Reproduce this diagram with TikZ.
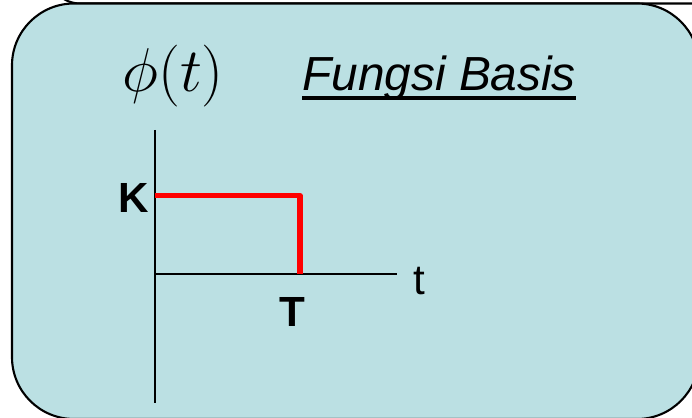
\RequirePackage{fix-cm}
\documentclass[tikz,border=0pt]{standalone}
\usepackage{fontspec}
\setmainfont{Liberation Sans}
\definecolor{panelblue}{RGB}{187,224,227}
\definecolor{stepred}{RGB}{255,0,0}

\begin{document}
\begin{tikzpicture}[x=0.025cm, y=-0.025cm, line join=round,
    lbl/.style={inner sep=0pt, anchor=base, font=\fontsize{30}{34}\selectfont\bfseries}]
  \useasboundingbox (0,0) rectangle (692,418);

  % bingkai
  \begin{scope}
    \clip (0,0) rectangle (692,418);
    \draw[line width=1.5pt, fill=white, rounded corners=22pt] (49,-200) rectangle (760,3.5);
    \draw[line width=1.5pt, fill=panelblue, rounded corners=44pt] (12,3.5) rectangle (699,419);
  \end{scope}

  % judul
  \node[inner sep=0pt, anchor=base west, font=\fontsize{44}{50}\selectfont] (phi) at (122,92) {$\phi(t)$};
  \node[inner sep=0pt, anchor=base west, font=\fontsize{34}{38}\selectfont\itshape] (judul) at (302,91) {Fungsi Basis};
  \draw[line width=2.8pt] ([yshift=-5pt]judul.base west) -- ([yshift=-5pt]judul.base east);

  % sumbu
  \coordinate (O) at (155,274);
  \coordinate (Yatas) at (155,130);
  \coordinate (Ybawah) at (155,403);
  \coordinate (Xujung) at (397,274);
  \draw[line width=1.4pt] (Yatas) -- (Ybawah);
  \draw[line width=1.4pt] (O) -- (Xujung);

  % fungsi tangga
  \coordinate (Kpt) at (155,195.5);
  \coordinate (Tatas) at (300,195.5);
  \coordinate (Tpt) at (300,274);
  \draw[line width=3.8pt, stepred] (Kpt) -- (Tatas) -- (Tpt);

  % label
  \node[lbl] (K) at (134,213) {K};
  \node[lbl] (T) at (292,327) {T};
  \node[lbl, font=\fontsize{30}{34}\selectfont] (t) at (419.5,295) {t};
\end{tikzpicture}
\end{document}
